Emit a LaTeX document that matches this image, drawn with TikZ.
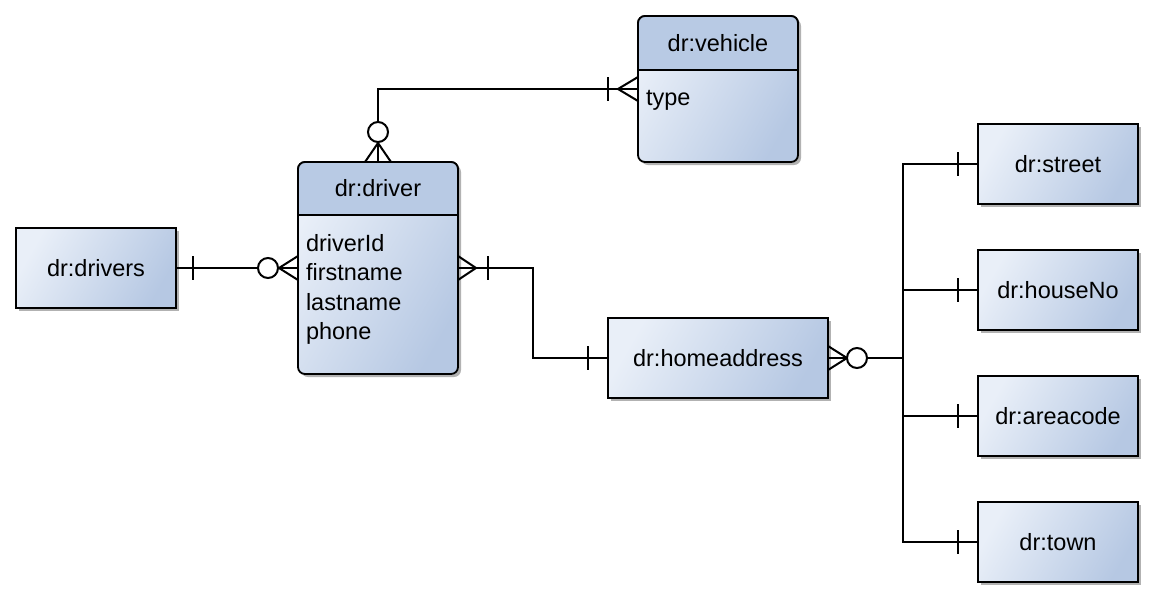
\documentclass[tikz,border=0pt]{standalone}
\usepackage{fontspec}
\setmainfont{Liberation Sans}
\usetikzlibrary{calc,shadows}
\definecolor{hd}{HTML}{B8CAE4}
\definecolor{lt}{HTML}{E9EFF8}
\definecolor{dk}{HTML}{B6C8E3}
\tikzset{
  txt/.style={font=\fontsize{23.5}{29.5}\selectfont, inner sep=0pt, outer sep=0pt},
  box/.style={txt, draw=black, line width=1.8pt, left color=lt, right color=dk, shading angle=60,
    drop shadow={shadow xshift=3pt, shadow yshift=-3pt, opacity=0.3, fill=black},
    minimum width=160pt, minimum height=80pt},
  ent/.style={box, rounded corners=7pt},
  conn/.style={line width=2pt},
  hollow/.style={line width=2pt, fill=white},
}
\begin{document}
\begin{tikzpicture}[x=1pt,y=-1pt]
\useasboundingbox (0,0) rectangle (1154,598);
\fill[white] (0,0) rectangle (1154,598);

% entities
\node[box] (drivers) at (96,268) {dr:drivers};
\node[box, minimum width=220pt] (home) at (718,358) {dr:homeaddress};
\node[box] (street) at (1058,164) {dr:street};
\node[box] (house) at (1058,290) {dr:houseNo};
\node[box] (area) at (1058,416) {dr:areacode};
\node[box] (town) at (1058,542) {dr:town};
\node[ent, minimum width=160pt, minimum height=212pt] (driver) at (378,268) {};
\node[ent, minimum width=160pt, minimum height=146pt] (vehicle) at (718,89) {};

% headers
\coordinate (vsep) at ($(vehicle.north)+(0,54)$);
\draw[fill=hd, line width=1.8pt, rounded corners=7pt] (vehicle.west |- vsep) -- (vehicle.north west) -- (vehicle.north east) -- (vehicle.east |- vsep);
\draw[line width=1.8pt] (vehicle.west |- vsep) -- (vehicle.east |- vsep);
\node[txt] (vtitle) at ($(vehicle.north)!0.5!(vsep)$) {dr:vehicle};
\node[txt, anchor=base west] (vtype) at ($(vehicle.west |- vsep)+(8,35)$) {type};

\coordinate (dsep) at ($(driver.north)+(0,53)$);
\draw[fill=hd, line width=1.8pt, rounded corners=7pt] (driver.west |- dsep) -- (driver.north west) -- (driver.north east) -- (driver.east |- dsep);
\draw[line width=1.8pt] (driver.west |- dsep) -- (driver.east |- dsep);
\node[txt] (dtitle) at ($(driver.north)!0.5!(dsep)$) {dr:driver};
\node[txt, anchor=base west] (a1) at ($(driver.west |- dsep)+(8,36)$) {driverId};
\node[txt, anchor=base west] (a2) at ($(a1.base west)+(0,29.5)$) {firstname};
\node[txt, anchor=base west] (a3) at ($(a2.base west)+(0,29.5)$) {lastname};
\node[txt, anchor=base west] (a4) at ($(a3.base west)+(0,29.5)$) {phone};

% drivers -- driver
\draw[conn] (drivers.east) -- (driver.west);
\draw[conn] ($(drivers.east)+(17,-12)$) -- ($(drivers.east)+(17,12)$);
\draw[conn] ($(driver.west)+(0,-12)$) -- ($(driver.west)+(-19,0)$) -- ($(driver.west)+(0,12)$);
\draw[hollow] ($(driver.west)+(-30,0)$) circle (10pt);

% driver -- vehicle
\draw[conn] (driver.north) |- (vehicle.west);
\draw[conn] ($(driver.north)+(-13,0)$) -- ($(driver.north)+(0,-19)$) -- ($(driver.north)+(13,0)$);
\draw[hollow] ($(driver.north)+(0,-30)$) circle (10pt);
\draw[conn] ($(vehicle.west)+(0,-12)$) -- ($(vehicle.west)+(-20,0)$) -- ($(vehicle.west)+(0,12)$);
\draw[conn] ($(vehicle.west)+(-30,-12)$) -- ($(vehicle.west)+(-30,12)$);

% driver -- homeaddress
\coordinate (turn) at ($(driver.east)+(75,0)$);
\draw[conn] (driver.east) -- (turn) |- (home.west);
\draw[conn] ($(driver.east)+(0,-12)$) -- ($(driver.east)+(18,0)$) -- ($(driver.east)+(0,12)$);
\draw[conn] ($(driver.east)+(30,-12)$) -- ($(driver.east)+(30,12)$);
\draw[conn] ($(home.west)+(-20,-12)$) -- ($(home.west)+(-20,12)$);

% homeaddress -- parts
\coordinate (bus) at ($(home.east)+(75,0)$);
\draw[conn] (bus) |- (street.west);
\draw[conn] (bus) |- (house.west);
\draw[conn] (bus) |- (area.west);
\draw[conn] (bus) |- (town.west);
\draw[line width=2.8pt] (home.east) -- (bus);
\draw[line width=2.8pt] (bus |- house.west) -- (bus |- area.west);
\foreach \t in {street,house,area,town}
  \draw[conn] ($(\t.west)+(-20,-12)$) -- ($(\t.west)+(-20,12)$);
\draw[conn] ($(home.east)+(0,-12)$) -- ($(home.east)+(19,0)$) -- ($(home.east)+(0,12)$);
\draw[hollow] ($(home.east)+(29,0)$) circle (10pt);
\end{tikzpicture}
\end{document}
